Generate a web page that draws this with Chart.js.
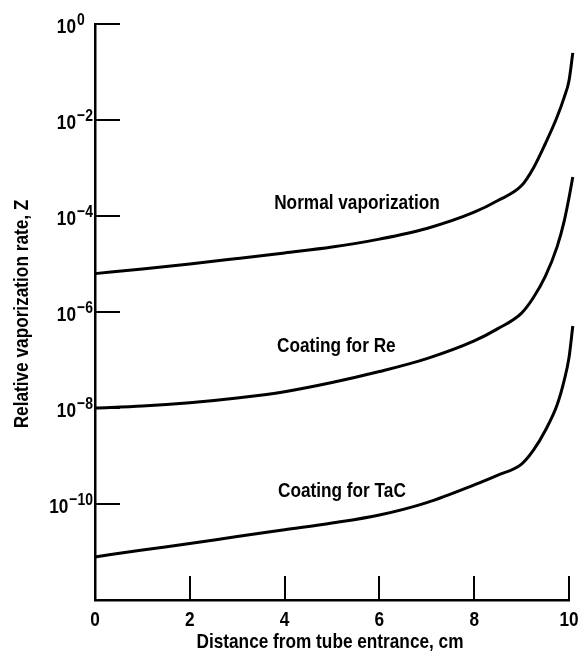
<!DOCTYPE html>
<html>
<head>
<meta charset="utf-8">
<script src="https://cdn.jsdelivr.net/npm/chart.js@4.4.1/dist/chart.umd.min.js"></script>
<style>
  html, body { margin: 0; padding: 0; background: #fff; }
  canvas { display: block; }
</style>
</head>
<body>
<canvas id="chart" width="579" height="655"></canvas>
<script>
// Distance from tube entrance, cm
const distance = [0, 1, 2, 3, 4, 5, 6, 7, 8, 8.5, 9, 9.25, 9.5, 9.75, 9.9, 10, 10.08];

// Relative vaporization rate Z for each case
const normalVaporization = [6.3e-6, 7.9e-6, 1.0e-5, 1.3e-5, 1.7e-5, 2.25e-5, 3.3e-5, 5.5e-5, 1.2e-4, 2.1e-4, 4.3e-4, 1.0e-3, 3.2e-3, 1.17e-2, 3.0e-2, 6.6e-2, 0.25];
const coatingForRe = [1.0e-8, 1.1e-8, 1.29e-8, 1.62e-8, 2.19e-8, 3.4e-8, 5.75e-8, 1.07e-7, 2.5e-7, 4.5e-7, 9.5e-7, 2.0e-6, 5.5e-6, 2.3e-5, 7.9e-5, 2.4e-4, 6.5e-4];
const coatingForTaC = [7.9e-12, 1.1e-11, 1.5e-11, 2.1e-11, 2.9e-11, 4.0e-11, 5.9e-11, 1.07e-10, 2.5e-10, 4.0e-10, 6.8e-10, 1.32e-9, 3.4e-9, 1.17e-8, 3.8e-8, 1.12e-7, 5.1e-7];

// Axis ticks
const xTickValues = [0, 2, 4, 6, 8, 10];
const yTickExponents = [0, -2, -4, -6, -8, -10];

// Titles and curve captions
const xTitle = 'Distance from tube entrance, cm';
const yTitle = 'Relative vaporization rate, Z';
const curveLabels = ['Normal vaporization', 'Coating for Re', 'Coating for TaC'];
const captionAnchors = [
  { x: 3.78, y: 1.4e-4 },
  { x: 3.84, y: 1.5e-7 },
  { x: 3.86, y: 1.43e-10 }
];

const FAMILY = '"Liberation Sans", Arial, sans-serif';
const CONDENSE = 0.82;   // narrow grotesque lettering
const INK = '#000';

const toPoints = (ys) => distance.map((d, i) => ({ x: d, y: ys[i] }));
const series = [normalVaporization, coatingForRe, coatingForTaC];

// Writes text squeezed horizontally, aligned on (x, y) baseline
function narrowText(ctx, text, x, y, align) {
  const w = ctx.measureText(text).width * CONDENSE;
  const left = align === 'center' ? x - w / 2 : align === 'right' ? x - w : x;
  ctx.save();
  ctx.translate(left, y);
  ctx.scale(CONDENSE, 1);
  ctx.textAlign = 'left';
  ctx.textBaseline = 'alphabetic';
  ctx.fillText(text, 0, 0);
  ctx.restore();
  return w;
}

// Inward tick marks, tick labels, axis titles and curve captions
const axisMarks = {
  id: 'axisMarks',
  afterDraw(chart) {
    const { ctx, chartArea, scales } = chart;
    const x = scales.x, y = scales.y;
    ctx.save();
    ctx.strokeStyle = INK;
    ctx.fillStyle = INK;
    ctx.lineWidth = 2;

    // y tick marks pointing into the plot
    yTickExponents.forEach((e) => {
      const py = Math.round(y.getPixelForValue(Math.pow(10, e)));
      ctx.beginPath();
      ctx.moveTo(chartArea.left, py);
      ctx.lineTo(chartArea.left + 25, py);
      ctx.stroke();
    });

    // x tick marks pointing up
    xTickValues.filter((v) => v > 0).forEach((v) => {
      const px = Math.round(x.getPixelForValue(v));
      ctx.beginPath();
      ctx.moveTo(px, chartArea.bottom);
      ctx.lineTo(px, chartArea.bottom - 24);
      ctx.stroke();
    });

    const bigFont = 'bold 21px ' + FAMILY;
    const expFont = 'bold 17px ' + FAMILY;

    // x tick labels
    ctx.font = bigFont;
    xTickValues.forEach((v) => {
      narrowText(ctx, String(v), x.getPixelForValue(v), chartArea.bottom + 26, 'center');
    });

    // y tick labels: 10 with a raised exponent
    yTickExponents.forEach((e) => {
      const py = y.getPixelForValue(Math.pow(10, e));
      const expText = e === 0 ? '0' : '\u2212' + String(-e);
      ctx.font = expFont;
      const expW = ctx.measureText(expText).width * CONDENSE;
      const baseRight = Math.min(76, 92 - expW);
      ctx.font = bigFont;
      narrowText(ctx, '10', baseRight, py + 9, 'right');
      ctx.font = expFont;
      narrowText(ctx, expText, baseRight + 1, py + 1, 'left');
    });

    // axis titles
    ctx.font = bigFont;
    narrowText(ctx, xTitle, (chartArea.left + chartArea.right) / 2 - 2, chartArea.bottom + 48, 'center');
    ctx.save();
    ctx.translate(28, (chartArea.top + chartArea.bottom) / 2 + 2);
    ctx.rotate(-Math.PI / 2);
    narrowText(ctx, yTitle, 0, 0, 'center');
    ctx.restore();

    // captions next to each curve
    curveLabels.forEach((t, i) => {
      const a = captionAnchors[i];
      narrowText(ctx, t, x.getPixelForValue(a.x), y.getPixelForValue(a.y), 'left');
    });
    ctx.restore();
  }
};

new Chart(document.getElementById('chart'), {
  type: 'line',
  data: {
    datasets: series.map((ys, i) => ({
      label: curveLabels[i],
      data: toPoints(ys),
      borderColor: INK,
      borderWidth: 3,
      pointRadius: 0,
      fill: false,
      cubicInterpolationMode: 'monotone',
      clip: false
    }))
  },
  options: {
    responsive: false,
    animation: false,
    layout: { padding: { top: 24, right: 10, left: 0, bottom: 0 } },
    plugins: {
      legend: { display: false },
      tooltip: { enabled: false }
    },
    scales: {
      x: {
        type: 'linear',
        bounds: 'data',
        // axis runs 0–10 cm; curve ends just past the last tick are still drawn
        afterDataLimits(scale) { scale.min = 0; scale.max = 10; },
        afterBuildTicks(scale) {
          scale.ticks = xTickValues.map((v) => ({ value: v }));
        },
        afterFit(scale) { scale.height = 55; },
        ticks: { display: false },
        grid: { display: false, drawTicks: false },
        border: { display: true, color: INK, width: 2.5 }
      },
      y: {
        type: 'logarithmic',
        min: 1e-12,
        max: 1,
        afterFit(scale) { scale.width = 95; },
        ticks: { display: false },
        grid: { display: false, drawTicks: false },
        border: { display: true, color: INK, width: 2.5 }
      }
    }
  },
  plugins: [axisMarks]
});
</script>
</body>
</html>
